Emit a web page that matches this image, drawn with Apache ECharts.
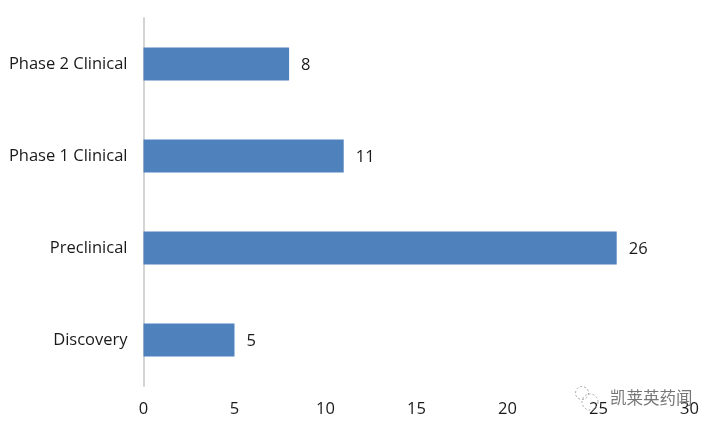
<!DOCTYPE html>
<html><head><meta charset="utf-8">
<style>html,body{margin:0;padding:0;background:#fff}#c{width:716px;height:430px}</style>
<script src="https://cdn.jsdelivr.net/npm/echarts@6/dist/echarts.min.js"></script></head>
<body><div id="c"></div>
<script>
const categories=['Discovery','Preclinical','Phase 1 Clinical','Phase 2 Clinical'];
const values=[5,26,11,8];
const chart=echarts.init(document.getElementById('c'),null,{renderer:'canvas'});
const font='"Open Sans"';
chart.setOption({
  animation:false,
  backgroundColor:'#fff',
  grid:{left:143.5,top:18,width:546,height:368,containLabel:false},
  xAxis:{type:'value',min:0,max:30,interval:5,splitLine:{show:false},axisLine:{show:false},axisTick:{show:false},
    axisLabel:{color:'#1a1a1a',fontFamily:font,fontSize:16.5,margin:15}},
  yAxis:{type:'category',data:categories,axisTick:{show:false},
    axisLine:{show:true,lineStyle:{color:'#d4d4d4',width:2}},
    axisLabel:{color:'#1a1a1a',fontFamily:font,fontSize:16.5,margin:16}},
  series:[{type:'bar',data:values,barWidth:33,itemStyle:{color:'#4f81bd'},
    label:{show:true,position:'right',distance:12,offset:[0,1],color:'#1a1a1a',fontFamily:font,fontSize:16.5}}],
  graphic:[
    {type:'text',left:610,top:389,z:1,style:{text:'凯莱英药闻',fill:'#777',font:'16.5px "Noto Sans CJK SC"'}},
    {type:'circle',z:1,shape:{cx:582,cy:393,r:6.5},style:{fill:'none',stroke:'#aaa',lineWidth:1,lineDash:[2,2]}},
    {type:'circle',z:1,shape:{cx:590,cy:402,r:8},style:{fill:'none',stroke:'#aaa',lineWidth:1,lineDash:[2,2]}}
  ]
});
</script></body></html>
